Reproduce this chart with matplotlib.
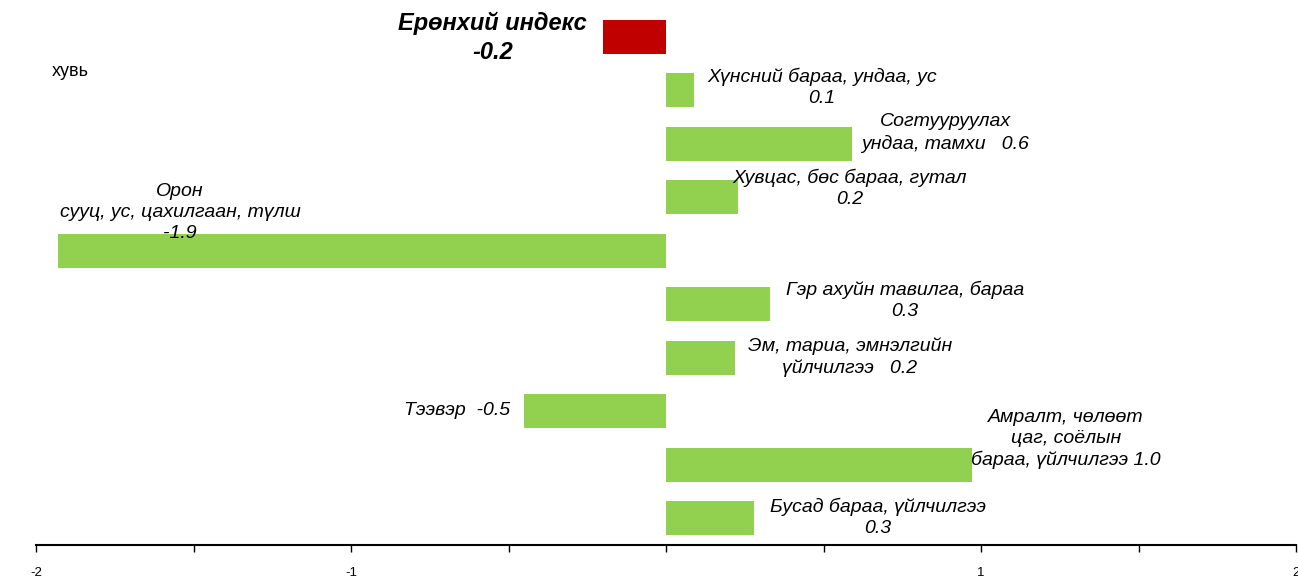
import matplotlib
matplotlib.use("Agg")
from matplotlib import pyplot as plt

# categories (top to bottom) and their changes, percent
categories = [
    "Ерөнхий индекс",
    "Хүнсний бараа, ундаа, ус",
    "Согтууруулах ундаа, тамхи",
    "Хувцас, бөс бараа, гутал",
    "Орон сууц, ус, цахилгаан, түлш",
    "Гэр ахуйн тавилга, бараа",
    "Эм, тариа, эмнэлгийн үйлчилгээ",
    "Тээвэр",
    "Амралт, чөлөөт цаг, соёлын бараа, үйлчилгээ",
    "Бусад бараа, үйлчилгээ",
]
values = [-0.20, 0.09, 0.59, 0.23, -1.93, 0.33, 0.22, -0.45, 0.97, 0.28]

# label text as printed on the chart
label_texts = [
    "Ерөнхий индекс\n-0.2",
    "Хүнсний бараа, ундаа, ус\n0.1",
    "Согтууруулах\nундаа, тамхи   0.6",
    "Хувцас, бөс бараа, гутал\n0.2",
    "Орон\nсууц, ус, цахилгаан, түлш\n-1.9",
    "Гэр ахуйн тавилга, бараа\n0.3",
    "Эм, тариа, эмнэлгийн\nүйлчилгээ   0.2",
    "Тээвэр  -0.5",
    "Амралт, чөлөөт\nцаг, соёлын\nбараа, үйлчилгээ 1.0",
    "Бусад бараа, үйлчилгээ\n0.3",
]

tick_vals = [-2, -1, 1, 2]
tick_labels = ["-2", "-1", "1", "2"]

plt.rcParams["font.family"] = ["Liberation Sans", "DejaVu Sans"]

fig = plt.figure(figsize=(12.98, 5.8), dpi=100)
ax = fig.add_axes([36 / 1298, 35 / 580, 1260 / 1298, 535 / 580])

colors = ["#C00000"] + ["#92D050"] * (len(values) - 1)
pos = list(range(len(values)))
ax.barh(pos, values, height=0.63, color=colors)

ax.set_xlim(-2, 2)
ax.set_ylim(len(values) - 0.5, -0.5)

# label placement (data coords), hand tuned like the original
label_pos = [
    (-0.55, 0.02),
    (0.495, 0.94),
    (0.886, 1.80),
    (0.584, 2.84),
    (-1.543, 3.29),
    (0.759, 4.93),
    (0.584, 5.99),
    (-0.663, 6.99),
    (1.27, 7.52),
    (0.673, 8.98),
]
for i, (txt, (lx, ly)) in enumerate(zip(label_texts, label_pos)):
    if i == 0:
        ax.text(lx, ly, txt, ha="center", va="center", fontsize=17,
                fontweight="bold", style="italic", linespacing=1.3)
    else:
        ax.text(lx, ly, txt, ha="center", va="center", fontsize=14,
                style="italic", linespacing=1.3)

fig.text(52 / 1298, 1 - 72 / 580, "хувь", fontsize=13, va="center")

for s in ["top", "right", "left"]:
    ax.spines[s].set_visible(False)
ax.spines["bottom"].set_linewidth(1.5)
ax.set_yticks([])
ax.set_xticks(tick_vals)
ax.set_xticklabels(tick_labels, fontsize=9.5)
ax.set_xticks([-1.5, -0.5, 0, 0.5, 1.5], minor=True)
ax.tick_params(axis="x", which="both", direction="out", length=5, width=1, pad=11)

fig.savefig("out.png", dpi=100)
